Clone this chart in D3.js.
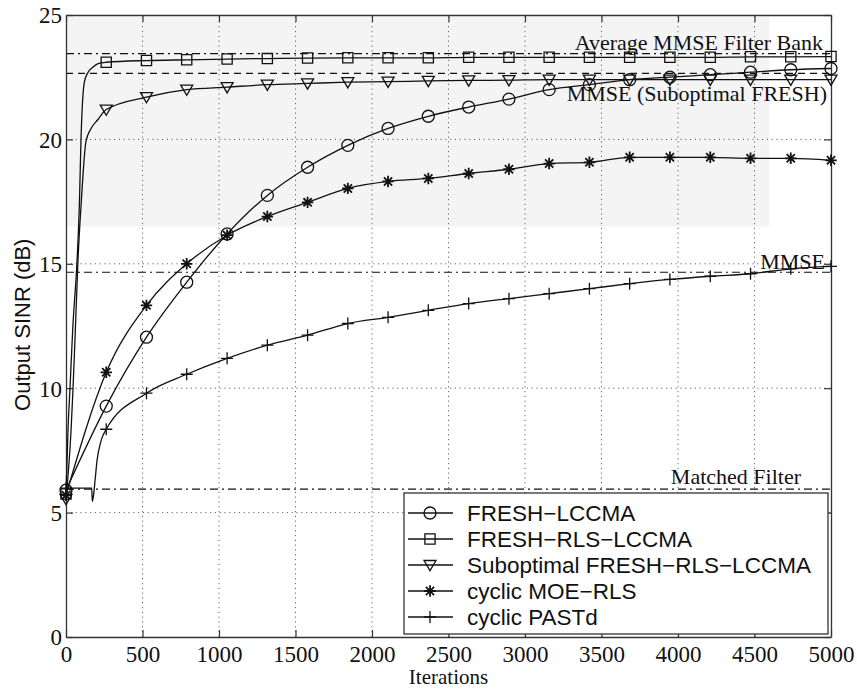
<!DOCTYPE html>
<html>
<head>
<meta charset="utf-8">
<script src="https://cdn.jsdelivr.net/npm/d3@7"></script>
<style>
  html, body { margin: 0; padding: 0; background: #fff; }
  svg { display: block; }
</style>
</head>
<body>
<svg id="chart" width="857" height="690"></svg>
<script>
// Iterations at which the markers are placed
const markerIters = [0, 263, 526, 789, 1053, 1316, 1579, 1842, 2105, 2368, 2632, 2895, 3158, 3421, 3684, 3947, 4211, 4474, 4737, 5000];

// Output SINR (dB) at the marker iterations
const freshLccma   = [5.9, 9.28, 12.05, 14.26, 16.2, 17.75, 18.88, 19.76, 20.44, 20.93, 21.3, 21.62, 22.0, 22.2, 22.4, 22.5, 22.6, 22.7, 22.8, 22.85];
const freshRlsLccma = [5.75, 23.1, 23.17, 23.2, 23.23, 23.25, 23.27, 23.28, 23.28, 23.28, 23.3, 23.3, 23.3, 23.3, 23.3, 23.3, 23.3, 23.32, 23.32, 23.33];
const suboptRlsLccma = [5.55, 21.2, 21.7, 22.0, 22.1, 22.2, 22.25, 22.3, 22.32, 22.35, 22.37, 22.38, 22.4, 22.4, 22.4, 22.4, 22.4, 22.4, 22.4, 22.4];
const cyclicMoeRls = [5.7, 10.64, 13.33, 15.0, 16.15, 16.9, 17.47, 18.03, 18.31, 18.43, 18.63, 18.8, 19.03, 19.08, 19.28, 19.28, 19.28, 19.24, 19.24, 19.16];
const cyclicPastd  = [5.98, 8.35, 9.8, 10.56, 11.2, 11.73, 12.13, 12.6, 12.85, 13.13, 13.4, 13.6, 13.8, 14.0, 14.2, 14.37, 14.5, 14.6, 14.8, 14.9];

// Extra samples of the fast initial transients, [iteration, SINR]
const freshRlsStart   = [[13, 8.3], [26, 10.0], [45, 12.5], [72, 15.1], [88, 17.5], [98, 20.0], [108, 21.5], [120, 22.3], [140, 22.65], [175, 22.9], [209, 23.05]];
const suboptStart     = [[33, 8.3], [46, 10.0], [62, 12.5], [78, 15.1], [100, 17.5], [130, 19.9], [160, 20.4], [209, 20.8]];
const pastdStart      = [[168, 5.98], [172, 5.45], [180, 5.7], [190, 6.3], [203, 7.1], [230, 7.9]];

// Reference levels (dB)
const refLevels = [
  { label: "Average MMSE Filter Bank", value: 23.45, dash: "8,4,2,4", dy: -4 },
  { label: "MMSE (Suboptimal FRESH)", value: 22.65, dash: "7,5", dy: 28 },
  { label: "MMSE", value: 14.66, dash: "8,4,2,4", dy: -3 },
  { label: "Matched Filter", value: 5.94, dash: "8,4,2,4", dy: -5 }
];

// Axis ticks
const xTicks = [0, 500, 1000, 1500, 2000, 2500, 3000, 3500, 4000, 4500, 5000];
const yTicks = [0, 5, 10, 15, 20, 25];

const seriesNames = ["FRESH\u2212LCCMA", "FRESH\u2212RLS\u2212LCCMA", "Suboptimal FRESH\u2212RLS\u2212LCCMA", "cyclic MOE\u2212RLS", "cyclic PASTd"];
const seriesMarkers = ["circle", "square", "triangle", "star", "plus"];

function buildLine(values, start) {
  const pts = [[markerIters[0], values[0]]];
  (start || []).forEach(p => pts.push(p));
  for (let i = 1; i < markerIters.length; i++) pts.push([markerIters[i], values[i]]);
  return pts;
}

const series = [
  { name: seriesNames[0], marker: seriesMarkers[0], values: freshLccma, line: buildLine(freshLccma) },
  { name: seriesNames[1], marker: seriesMarkers[1], values: freshRlsLccma, line: buildLine(freshRlsLccma, freshRlsStart) },
  { name: seriesNames[2], marker: seriesMarkers[2], values: suboptRlsLccma, line: buildLine(suboptRlsLccma, suboptStart) },
  { name: seriesNames[3], marker: seriesMarkers[3], values: cyclicMoeRls, line: buildLine(cyclicMoeRls) },
  { name: seriesNames[4], marker: seriesMarkers[4], values: cyclicPastd, line: buildLine(cyclicPastd, pastdStart) }
];

const svg = d3.select("#chart");
const x = d3.scaleLinear().domain([0, 5000]).range([66, 831]);
const y = d3.scaleLinear().domain([0, 25]).range([637, 15]);

const serif = "'Liberation Serif', 'Times New Roman', serif";
const sans = "'Liberation Sans', Arial, Helvetica, sans-serif";
const ink = "#111";

// light background tone in the upper part of the plot area
svg.append("rect")
  .attr("x", x(0) + 1).attr("y", y(25) + 2)
  .attr("width", x(4590) - x(0)).attr("height", y(16.5) - y(25) - 2)
  .attr("fill", "#f4f4f4");

// dotted grid
const grid = svg.append("g").attr("stroke", "#666").attr("stroke-width", 1).attr("stroke-dasharray", "1.2,3.6");
grid.selectAll("line.gx").data(xTicks.slice(1, -1)).join("line")
  .attr("x1", d => x(d)).attr("x2", d => x(d)).attr("y1", y(0)).attr("y2", y(25));
grid.selectAll("line.gy").data(yTicks.slice(1, -1)).join("line")
  .attr("y1", d => y(d)).attr("y2", d => y(d)).attr("x1", x(0)).attr("x2", x(5000));

// reference levels
svg.append("g").selectAll("line").data(refLevels).join("line")
  .attr("x1", x(0)).attr("x2", x(5000))
  .attr("y1", d => y(d.value)).attr("y2", d => y(d.value))
  .attr("stroke", ink).attr("stroke-width", 1.2).attr("stroke-dasharray", d => d.dash);

// axes with inward ticks on all four sides
const tickLen = 7;
const axB = svg.append("g").attr("transform", `translate(0,${y(0)})`)
  .call(d3.axisBottom(x).tickValues(xTicks).tickSizeInner(-tickLen).tickSizeOuter(0).tickPadding(10).tickFormat(d3.format("d")));
const axT = svg.append("g").attr("transform", `translate(0,${y(25)})`)
  .call(d3.axisTop(x).tickValues(xTicks).tickSizeInner(-tickLen).tickSizeOuter(0).tickFormat(""));
const axL = svg.append("g").attr("transform", `translate(${x(0)},0)`)
  .call(d3.axisLeft(y).tickValues(yTicks).tickSizeInner(-tickLen).tickSizeOuter(0).tickPadding(4).tickFormat(d3.format("d")));
const axR = svg.append("g").attr("transform", `translate(${x(5000)},0)`)
  .call(d3.axisRight(y).tickValues(yTicks).tickSizeInner(-tickLen).tickSizeOuter(0).tickFormat(""));
[axB, axT, axL, axR].forEach(a => {
  a.select(".domain").attr("stroke", "#333").attr("stroke-width", 1.3);
  a.selectAll(".tick line").attr("stroke", "#333").attr("stroke-width", 1.2);
  a.selectAll(".tick text").attr("fill", ink).attr("font-family", serif).attr("font-size", 23);
});
axB.selectAll(".tick text").attr("dy", "0.66em");
axL.selectAll(".tick text").attr("dy", "0.34em");

// axis titles
svg.append("text").attr("x", (x(0) + x(5000)) / 2).attr("y", 684)
  .attr("text-anchor", "middle").attr("font-family", serif).attr("font-size", 21).attr("fill", ink)
  .text("Iterations");
svg.append("text").attr("transform", `translate(30,${y(12.55)}) rotate(-90)`)
  .attr("text-anchor", "middle").attr("font-family", sans).attr("font-size", 22).attr("fill", ink)
  .text("Output SINR (dB)");

// reference level labels
svg.append("g").selectAll("text").data(refLevels).join("text")
  .attr("x", (d, i) => x(5000) - [8, 4, 6, 30][i])
  .attr("y", d => y(d.value) + d.dy)
  .attr("text-anchor", "end").attr("font-family", serif).attr("font-size", 22).attr("fill", ink)
  .text(d => d.label);

// marker shapes
function markerPath(type, s) {
  const p = d3.path();
  if (type === "circle") { p.moveTo(s, 0); p.arc(0, 0, s, 0, 2 * Math.PI); }
  else if (type === "square") { p.rect(-s * 0.85, -s * 0.85, s * 1.7, s * 1.7); }
  else if (type === "triangle") { p.moveTo(-s, -s * 0.75); p.lineTo(s, -s * 0.75); p.lineTo(0, s * 0.95); p.closePath(); }
  else if (type === "star") {
    const a = s * 0.95, b = a * 0.72;
    p.moveTo(-a, 0); p.lineTo(a, 0); p.moveTo(0, -a); p.lineTo(0, a);
    p.moveTo(-b, -b); p.lineTo(b, b); p.moveTo(-b, b); p.lineTo(b, -b);
  }
  else if (type === "plus") { p.moveTo(-s, 0); p.lineTo(s, 0); p.moveTo(0, -s); p.lineTo(0, s); }
  return p.toString();
}
const markerSize = 6;

const lineGen = d3.line().x(d => x(d[0])).y(d => y(d[1])).curve(d3.curveMonotoneX);

const plot = svg.append("g");
series.forEach(s => {
  plot.append("path").datum(s.line).attr("d", lineGen)
    .attr("fill", "none").attr("stroke", ink).attr("stroke-width", 1.3);
  plot.selectAll(null).data(s.values).join("path")
    .attr("transform", (d, i) => `translate(${x(markerIters[i])},${y(d)})`)
    .attr("d", markerPath(s.marker, markerSize))
    .attr("fill", "none").attr("stroke", ink).attr("stroke-width", s.marker === "star" ? 1.8 : 1.3);
});

// legend
const lg = svg.append("g");
lg.append("rect").attr("x", 404).attr("y", 493).attr("width", 424).attr("height", 141)
  .attr("fill", "#fff").attr("stroke", "#333").attr("stroke-width", 1.3);
series.forEach((s, i) => {
  const ly = 513 + i * 26;
  lg.append("line").attr("x1", 408).attr("x2", 453).attr("y1", ly).attr("y2", ly)
    .attr("stroke", ink).attr("stroke-width", 1.3);
  lg.append("path").attr("transform", `translate(430,${ly})`).attr("d", markerPath(s.marker, markerSize))
    .attr("fill", "none").attr("stroke", ink).attr("stroke-width", s.marker === "star" ? 1.8 : 1.3);
  lg.append("text").attr("x", 467).attr("y", ly).attr("dy", "0.36em")
    .attr("font-family", sans).attr("font-size", 22.5).attr("fill", ink).text(s.name);
});
</script>
</body>
</html>
